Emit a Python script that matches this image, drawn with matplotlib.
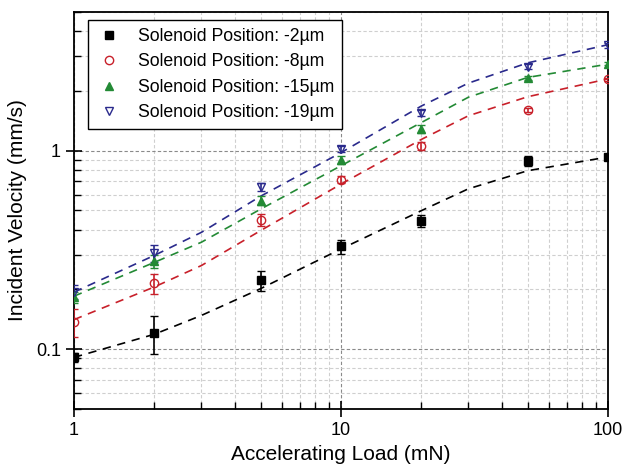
import matplotlib
matplotlib.use('Agg')
import matplotlib.pyplot as plt
from matplotlib.lines import Line2D
from matplotlib.ticker import LogLocator, NullFormatter, FixedLocator, FixedFormatter

plt.rcParams['font.family'] = ['Liberation Sans', 'DejaVu Sans']

# measured points
load = [1, 2, 5, 10, 20, 50, 100]

v_2um = [0.091, 0.121, 0.222, 0.330, 0.445, 0.89, 0.925]
e_2um = [0.005, 0.026, 0.025, 0.027, 0.03, 0.05, 0.03]

v_8um = [0.137, 0.215, 0.449, 0.715, 1.06, 1.60, 2.29]
e_8um = [0.022, 0.025, 0.03, 0.03, 0.05, 0.04, 0.04]

v_15um = [0.183, 0.277, 0.56, 0.90, 1.29, 2.32, 2.75]
e_15um = [0.012, 0.02, 0.03, 0.04, 0.06, 0.06, 0.05]

v_19um = [0.195, 0.305, 0.66, 1.02, 1.55, 2.65, 3.40]
e_19um = [0.015, 0.03, 0.03, 0.04, 0.06, 0.08, 0.1]

# fitted curves
fit_load = [1, 2, 3, 5, 10, 20, 30, 50, 100]
fit_2um = [0.091, 0.119, 0.148, 0.202, 0.320, 0.499, 0.643, 0.793, 0.93]
fit_8um = [0.141, 0.206, 0.264, 0.396, 0.679, 1.14, 1.50, 1.87, 2.30]
fit_15um = [0.185, 0.274, 0.346, 0.508, 0.84, 1.387, 1.86, 2.34, 2.73]
fit_19um = [0.194, 0.297, 0.388, 0.590, 0.978, 1.68, 2.19, 2.77, 3.42]

labels = ['Solenoid Position: -2\u00b5m', 'Solenoid Position: -8\u00b5m',
          'Solenoid Position: -15\u00b5m', 'Solenoid Position: -19\u00b5m']

fig = plt.figure(figsize=(6.35, 4.71), dpi=100)
ax = fig.add_axes([0.1165, 0.1316, 0.841, 0.843])

series = [
    (v_2um, e_2um, fit_2um, 'black', 's', 'black'),
    (v_8um, e_8um, fit_8um, '#c8202a', 'o', 'none'),
    (v_15um, e_15um, fit_15um, '#238a35', '^', '#238a35'),
    (v_19um, e_19um, fit_19um, '#2a2a8c', 'v', 'none'),
]

handles = []
for (v, e, fit, col, mk, fc), lab in zip(series, labels):
    ax.plot(fit_load, fit, ls=(0, (5, 4)), color=col, lw=1.2, zorder=2)
    ax.errorbar(load, v, yerr=e, fmt=mk, color=col, mfc=fc, mec=col,
                ms=6, mew=1.0, ecolor=col, elinewidth=1.2, capsize=3,
                capthick=1.2, zorder=3)
    handles.append(Line2D([], [], ls='none', marker=mk, color=col, mfc=fc,
                          mec=col, ms=6, mew=1.0, label=lab))

ax.set_xscale('log')
ax.set_yscale('log')
ax.set_xlim(1, 100)
ax.set_ylim(0.05, 5)

ax.xaxis.set_major_locator(FixedLocator([1, 10, 100]))
ax.xaxis.set_major_formatter(FixedFormatter(['1', '10', '100']))
ax.yaxis.set_major_locator(FixedLocator([0.1, 1]))
ax.yaxis.set_major_formatter(FixedFormatter(['0.1', '1']))
ax.xaxis.set_minor_locator(LogLocator(base=10, subs=range(2, 10)))
ax.yaxis.set_minor_locator(LogLocator(base=10, subs=range(2, 10)))
ax.xaxis.set_minor_formatter(NullFormatter())
ax.yaxis.set_minor_formatter(NullFormatter())

ax.tick_params(which='major', direction='inout', length=12, width=1.2, labelsize=13)
ax.tick_params(which='minor', direction='in', length=5, width=1.0)
ax.tick_params(top=False, right=False, which='both')

ax.grid(which='major', color='#8a8a8a', ls=(0, (3, 2)), lw=0.8)
ax.grid(which='minor', color='#cfcfcf', ls=(0, (3, 2)), lw=0.8)
ax.set_axisbelow(True)

for sp in ax.spines.values():
    sp.set_linewidth(1.3)

ax.set_xlabel('Accelerating Load (mN)', fontsize=15, labelpad=4)
ax.set_ylabel('Incident Velocity (mm/s)', fontsize=15, labelpad=6)

leg = ax.legend(handles=handles, loc='upper left', bbox_to_anchor=(0.026, 0.98),
                borderaxespad=0, fontsize=12.7, frameon=True, fancybox=False,
                edgecolor='black', handletextpad=0.9, borderpad=0.45,
                labelspacing=0.48, handlelength=1.5, framealpha=1)
leg.get_frame().set_linewidth(1.0)

plt.savefig('out.png', dpi=100)
